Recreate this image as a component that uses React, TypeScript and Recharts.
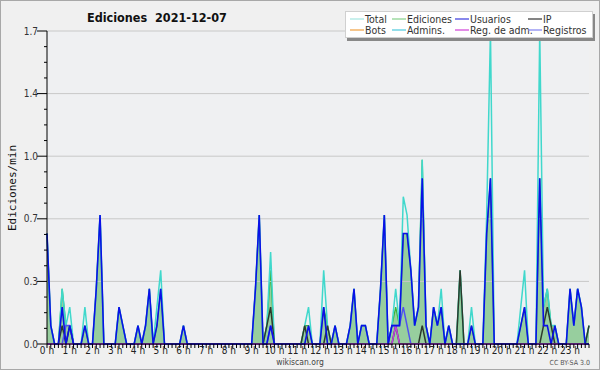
import React from 'react';
import { ComposedChart, Area, Line, XAxis, YAxis, CartesianGrid, ReferenceLine } from 'recharts';

// edits per minute, one value every 10 minutes (144 per day)
const total = [
  0.6, 0.1, 0, 0, 0.3, 0.1, 0.2, 0, 0, 0, 0.2, 0,
  0, 0.3, 0.7, 0, 0, 0, 0, 0.2, 0.1, 0, 0, 0,
  0.1, 0, 0.1, 0.3, 0, 0.2, 0.4, 0, 0, 0, 0, 0,
  0.1, 0, 0, 0, 0, 0, 0, 0, 0, 0, 0, 0,
  0, 0, 0, 0, 0, 0, 0, 0.3, 0.7, 0, 0.1, 0.5,
  0, 0, 0, 0, 0, 0, 0, 0, 0.1, 0.2, 0, 0,
  0, 0.4, 0.1, 0, 0.1, 0, 0, 0, 0.1, 0.3, 0, 0.1,
  0.1, 0, 0, 0, 0.3, 0.7, 0, 0.1, 0.3, 0.1, 0.8, 0.7,
  0.4, 0.1, 0.2, 1.0, 0.1, 0, 0.2, 0.1, 0.3, 0, 0.1, 0,
  0, 0.4, 0, 0, 0.2, 0, 0, 0, 0.7, 1.7, 0, 0,
  0, 0, 0, 0, 0, 0.2, 0.4, 0, 0, 0, 1.7, 0.2,
  0.3, 0.1, 0.1, 0, 0, 0, 0.3, 0.1, 0.3, 0.2, 0, 0.1,
];

const ediciones = [
  0.6, 0.1, 0, 0, 0.3, 0.1, 0.1, 0, 0, 0, 0.1, 0,
  0, 0.3, 0.7, 0, 0, 0, 0, 0.2, 0.1, 0, 0, 0,
  0.1, 0, 0.1, 0.3, 0, 0.1, 0.3, 0, 0, 0, 0, 0,
  0.1, 0, 0, 0, 0, 0, 0, 0, 0, 0, 0, 0,
  0, 0, 0, 0, 0, 0, 0, 0.3, 0.7, 0, 0.1, 0.4,
  0, 0, 0, 0, 0, 0, 0, 0, 0.1, 0.1, 0, 0,
  0, 0.2, 0.1, 0, 0.1, 0, 0, 0, 0.1, 0.3, 0, 0.1,
  0.1, 0, 0, 0, 0.3, 0.7, 0, 0.1, 0.2, 0.1, 0.6, 0.6,
  0.4, 0.1, 0.2, 1.0, 0.1, 0, 0.2, 0.1, 0.2, 0, 0.1, 0,
  0, 0.4, 0, 0, 0.1, 0, 0, 0, 0.6, 0.9, 0, 0,
  0, 0, 0, 0, 0, 0.1, 0.2, 0, 0, 0, 0.9, 0.2,
  0.3, 0.1, 0.1, 0, 0, 0, 0.3, 0.1, 0.3, 0.2, 0, 0.1,
];

const usuarios = [
  0.6, 0.1, 0, 0, 0.2, 0, 0.1, 0, 0, 0, 0.1, 0,
  0, 0.3, 0.7, 0, 0, 0, 0, 0.2, 0.1, 0, 0, 0,
  0.1, 0, 0.1, 0.3, 0, 0.1, 0.3, 0, 0, 0, 0, 0,
  0.1, 0, 0, 0, 0, 0, 0, 0, 0, 0, 0, 0,
  0, 0, 0, 0, 0, 0, 0, 0.3, 0.7, 0, 0, 0.1,
  0, 0, 0, 0, 0, 0, 0, 0, 0, 0.1, 0, 0,
  0, 0.2, 0, 0, 0.1, 0, 0, 0, 0.1, 0.3, 0, 0.1,
  0.1, 0, 0, 0, 0.3, 0.7, 0, 0.1, 0.1, 0.1, 0.6, 0.6,
  0.4, 0.1, 0.2, 0.9, 0.1, 0, 0.2, 0.1, 0.2, 0, 0.1, 0,
  0, 0, 0, 0, 0.1, 0, 0, 0, 0.6, 0.9, 0, 0,
  0, 0, 0, 0, 0, 0.1, 0.2, 0, 0, 0, 0.9, 0.1,
  0.1, 0, 0.1, 0, 0, 0, 0.3, 0.1, 0.3, 0.2, 0, 0,
];

const ip = [
  0, 0, 0, 0, 0.1, 0, 0.1, 0, 0, 0, 0, 0,
  0, 0, 0, 0, 0, 0, 0, 0, 0, 0, 0, 0,
  0, 0, 0, 0, 0, 0, 0, 0, 0, 0, 0, 0,
  0, 0, 0, 0, 0, 0, 0, 0, 0, 0, 0, 0,
  0, 0, 0, 0, 0, 0, 0, 0, 0, 0, 0.1, 0.2,
  0, 0, 0, 0, 0, 0, 0, 0, 0.1, 0, 0, 0,
  0, 0, 0.1, 0, 0, 0, 0, 0, 0, 0, 0, 0,
  0, 0, 0, 0, 0, 0, 0, 0, 0.1, 0, 0, 0,
  0, 0, 0, 0.1, 0, 0, 0, 0, 0, 0, 0, 0,
  0, 0.4, 0, 0, 0, 0, 0, 0, 0, 0, 0, 0,
  0, 0, 0, 0, 0, 0, 0, 0, 0, 0, 0, 0.1,
  0.2, 0.1, 0, 0, 0, 0, 0, 0, 0, 0, 0, 0.1,
];

const registros = [
  0, 0, 0, 0, 0, 0.1, 0.1, 0, 0, 0, 0, 0,
  0, 0, 0, 0, 0, 0, 0, 0, 0, 0, 0, 0,
  0, 0, 0, 0, 0, 0, 0, 0, 0, 0, 0, 0,
  0, 0, 0, 0, 0, 0, 0, 0, 0, 0, 0, 0,
  0, 0, 0, 0, 0, 0, 0, 0, 0, 0, 0, 0.1,
  0, 0, 0, 0, 0, 0, 0, 0, 0, 0, 0, 0,
  0, 0, 0, 0, 0, 0, 0, 0, 0, 0, 0, 0,
  0, 0, 0, 0, 0, 0, 0, 0.1, 0.1, 0.1, 0.2, 0.1,
  0, 0, 0, 0, 0, 0, 0, 0, 0, 0, 0, 0,
  0, 0, 0, 0, 0, 0, 0, 0, 0, 0, 0, 0,
  0, 0, 0, 0, 0, 0, 0, 0, 0, 0, 0, 0,
  0, 0, 0, 0, 0, 0, 0, 0, 0, 0, 0, 0,
];

const regAdm = [
  0, 0, 0, 0, 0, 0, 0, 0, 0, 0, 0, 0,
  0, 0, 0, 0, 0, 0, 0, 0, 0, 0, 0, 0,
  0, 0, 0, 0, 0, 0, 0, 0, 0, 0, 0, 0,
  0, 0, 0, 0, 0, 0, 0, 0, 0, 0, 0, 0,
  0, 0, 0, 0, 0, 0, 0, 0, 0, 0, 0, 0,
  0, 0, 0, 0, 0, 0, 0, 0, 0, 0, 0, 0,
  0, 0, 0, 0, 0, 0, 0, 0, 0, 0, 0, 0,
  0, 0, 0, 0, 0, 0, 0, 0, 0.1, 0, 0, 0,
  0, 0, 0, 0, 0, 0, 0, 0, 0, 0, 0, 0,
  0, 0, 0, 0, 0, 0, 0, 0, 0, 0, 0, 0,
  0, 0, 0, 0, 0, 0, 0, 0, 0, 0, 0, 0,
  0, 0, 0, 0, 0, 0, 0, 0, 0, 0, 0, 0,
];

const hourLabels = [
  '0 h', '1 h', '2 h', '3 h', '4 h', '5 h', '6 h', '7 h', '8 h', '9 h', '10 h', '11 h',
  '12 h', '13 h', '14 h', '15 h', '16 h', '17 h', '18 h', '19 h', '20 h', '21 h', '22 h', '23 h',
];

// y ticks: every 4th one is a labelled major tick
const yTicks = [
  0, 0.085, 0.17, 0.255, 0.34, 0.425, 0.51, 0.595, 0.68, 0.765, 0.85,
  0.935, 1.02, 1.105, 1.19, 1.275, 1.36, 1.445, 1.53, 1.615, 1.7,
];
const yMajor = [0.34, 0.68, 1.02, 1.36, 1.7];

const legendRows = [
  [
    { name: 'Total', color: '#a6e6e2' },
    { name: 'Ediciones', color: '#86d08a' },
    { name: 'Usuarios', color: '#3a3ae0' },
    { name: 'IP', color: '#333333' },
  ],
  [
    { name: 'Bots', color: '#f0a040' },
    { name: 'Admins.', color: '#4cc8dc' },
    { name: 'Reg. de adm.', color: '#d040d8' },
    { name: 'Registros', color: '#8080f0' },
  ],
];
const legendCols = [350, 392, 455, 528];

const data = usuarios.map((u, i) => ({
  i,
  total: total[i],
  ediciones: ediciones[i],
  usuarios: u,
  ip: ip[i],
  registros: registros[i],
  regAdm: regAdm[i],
}));
const xTicks = data.map((d) => d.i);

const font = '"DejaVu Sans Condensed", "DejaVu Sans", sans-serif';

const YTick = (props: any) => {
  const { x, y, payload, index } = props;
  const major = index % 4 === 0;
  return (
    <g>
      <line x1={x - (major ? 10 : 3)} x2={x} y1={y} y2={y} stroke="#000" />
      {major && (
        <text x={x - 9} y={y + 3.5} textAnchor="end" fontSize={10} fill="#333" fontFamily={font}>
          {payload.value.toFixed(1)}
        </text>
      )}
    </g>
  );
};

const XTick = (props: any) => {
  const { x, y, payload } = props;
  const v = payload.value;
  return (
    <g>
      <line x1={x} x2={x} y1={y} y2={y + 4} stroke="#000" />
      {v % 6 === 0 && (
        <text x={x} y={y + 10} textAnchor="middle" fontSize={10} fill="#222" fontFamily={font}>
          {hourLabels[v / 6]}
        </text>
      )}
    </g>
  );
};

export default function App() {
  return (
    <div style={{ position: 'fixed', left: 0, top: 0, width: 600, height: 370, background: '#f0f0f0', fontFamily: font }}>
      <div style={{ position: 'absolute', left: 0, top: 0 }}>
        <ComposedChart width={600} height={370} data={data} margin={{ top: 31, right: 11, bottom: 0, left: 0 }}>
          <CartesianGrid horizontal={false} vertical={false} fill="#eff0f2" fillOpacity={1} />
          {yMajor.map((v) => (
            <ReferenceLine key={v} y={v} stroke="#c8c8c8" strokeWidth={1} ifOverflow="extendDomain" />
          ))}
          <XAxis
            dataKey="i"
            type="number"
            domain={[0, 143]}
            ticks={xTicks}
            interval={0}
            height={26}
            tickSize={0}
            tickMargin={0}
            tickLine={false}
            axisLine={{ stroke: '#000' }}
            tick={<XTick />}
          />
          <YAxis
            type="number"
            domain={[0, 1.7]}
            ticks={yTicks}
            interval={0}
            width={47}
            tickSize={0}
            tickMargin={0}
            tickLine={false}
            axisLine={{ stroke: '#000' }}
            tick={<YTick />}
          />
          <Line dataKey="total" type="linear" stroke="#40d8cc" strokeWidth={1.5} dot={false} isAnimationActive={false} />
          <Area dataKey="ediciones" type="linear" stroke="#3cb43c" strokeWidth={1.3} fill="#5cb865" fillOpacity={0.6} dot={false} isAnimationActive={false} />
          <Line dataKey="ip" type="linear" stroke="#2c3a2c" strokeWidth={1.5} dot={false} isAnimationActive={false} />
          <Line dataKey="registros" type="linear" stroke="#5050f0" strokeWidth={1.5} dot={false} isAnimationActive={false} />
          <Line dataKey="regAdm" type="linear" stroke="#c040e0" strokeWidth={1.5} dot={false} isAnimationActive={false} />
          <Line dataKey="usuarios" type="linear" stroke="#0a10e8" strokeWidth={1.6} dot={false} isAnimationActive={false} />
        </ComposedChart>
      </div>

      <div style={{ position: 'absolute', left: 87, top: 10, fontSize: 12.5, fontWeight: 'bold', color: '#111', whiteSpace: 'pre' }}>
        Ediciones  2021-12-07
      </div>

      <div
        style={{
          position: 'absolute', left: 12, top: 188, fontSize: 11, color: '#111', whiteSpace: 'nowrap',
          fontFamily: '"DejaVu Sans Mono", monospace',
          transform: 'translate(-50%, -50%) rotate(-90deg)',
        }}
      >
        Ediciones/min
      </div>

      <div style={{ position: 'absolute', left: 345, top: 11, width: 248, height: 27, background: '#fff', border: '1px solid #d0d0d0', boxShadow: '2px 3px 0 #888', boxSizing: 'border-box' }}>
        <svg width={248} height={27} style={{ position: 'absolute', left: -1, top: -1 }}>
          {legendRows.map((row, r) =>
            row.map((item, c) => {
              const x = legendCols[c] - 345;
              const y = 8 + r * 11;
              return (
                <g key={item.name}>
                  <line x1={x} x2={x + 14} y1={y} y2={y} stroke={item.color} strokeWidth={1.2} />
                  <text x={x + 15} y={y + 3.5} fontSize={10.5} fill="#333" fontFamily={font}>{item.name}</text>
                </g>
              );
            })
          )}
        </svg>
      </div>

      <div style={{ position: 'absolute', left: 0, width: 600, top: 357, lineHeight: '10px', textAlign: 'center', fontSize: 8.5, color: '#444' }}>
        wikiscan.org
      </div>
      <div style={{ position: 'absolute', right: 10, top: 359, lineHeight: '8px', fontSize: 7, color: '#555' }}>
        CC BY-SA 3.0
      </div>

      <div style={{ position: 'absolute', left: 0, top: 0, width: 600, height: 370, border: '1px solid #a8a8a8', boxSizing: 'border-box', pointerEvents: 'none' }} />
    </div>
  );
}
